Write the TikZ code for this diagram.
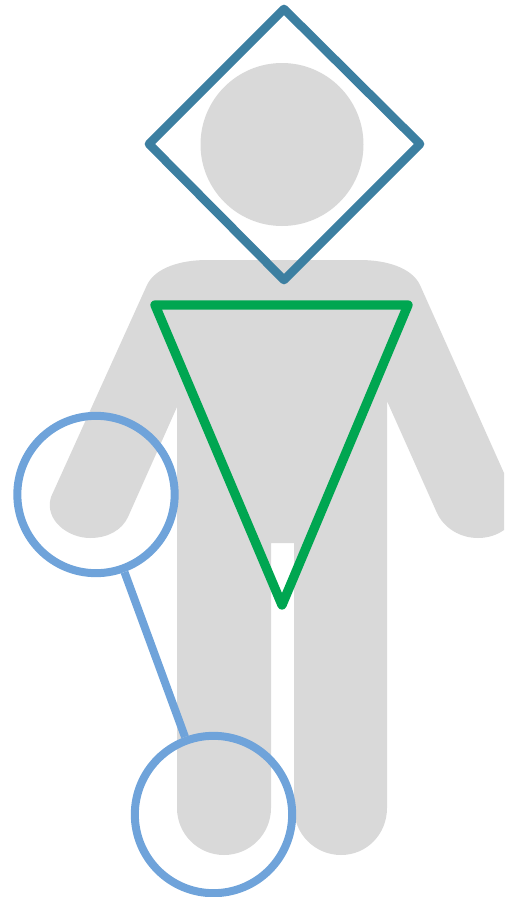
\documentclass[tikz,border=0pt]{standalone}
\definecolor{bodygray}{HTML}{D9D9D9}
\definecolor{diamondblue}{HTML}{3C7FA1}
\definecolor{trigreen}{HTML}{00A651}
\definecolor{ringblue}{HTML}{6FA3DA}
\tikzset{
  bodyshape/.style={fill=bodygray,draw=none},
  outline/.style={line width=6.5pt,line join=round,line cap=round},
  ring/.style={circle,draw=ringblue,line width=6pt,minimum size=118pt,inner sep=0pt}
}
\begin{document}
\begin{tikzpicture}[x=0.75pt,y=-0.75pt]
\useasboundingbox (0,0) rectangle (504,897);
\clip (0,0) rectangle (504,897);
% head
\fill[bodygray] (282,144.5) circle (81.5);
% body
\path[bodyshape] (207,260)
  .. controls (180,260) and (155,268) .. (147,285)
  -- (51,497)
  .. controls (44,520) and (68,538) .. (90,538)
  .. controls (108,538) and (122,530) .. (128,517)
  -- (177,407) -- (177,808)
  .. controls (177,834) and (198,855) .. (224,855)
  .. controls (250,855) and (271,834) .. (271,808)
  -- (271,543) -- (294,543) -- (294,808)
  .. controls (294,834) and (315,855) .. (341,855)
  .. controls (367,855) and (387,834) .. (387,808)
  -- (387,401) -- (437,513)
  .. controls (444,528) and (460,538) .. (478,538)
  .. controls (488,538) and (497,535) .. (504,530)
  -- (504,473) -- (420,285)
  .. controls (412,268) and (387,260) .. (360,260)
  -- cycle;
% diamond and triangle
\draw[outline,draw=diamondblue] (284,9) -- (420,144) -- (284,280) -- (149,144) -- cycle;
\draw[outline,draw=trigreen,line width=7pt] (155,305) -- (408,305) -- (282,605) -- cycle;
% rings and connector
\node[ring] (upper) at (96,494.5) {};
\node[ring] (lower) at (213.5,814.5) {};
\draw[draw=ringblue,line width=6pt] (upper) -- (lower);
\end{tikzpicture}
\end{document}
